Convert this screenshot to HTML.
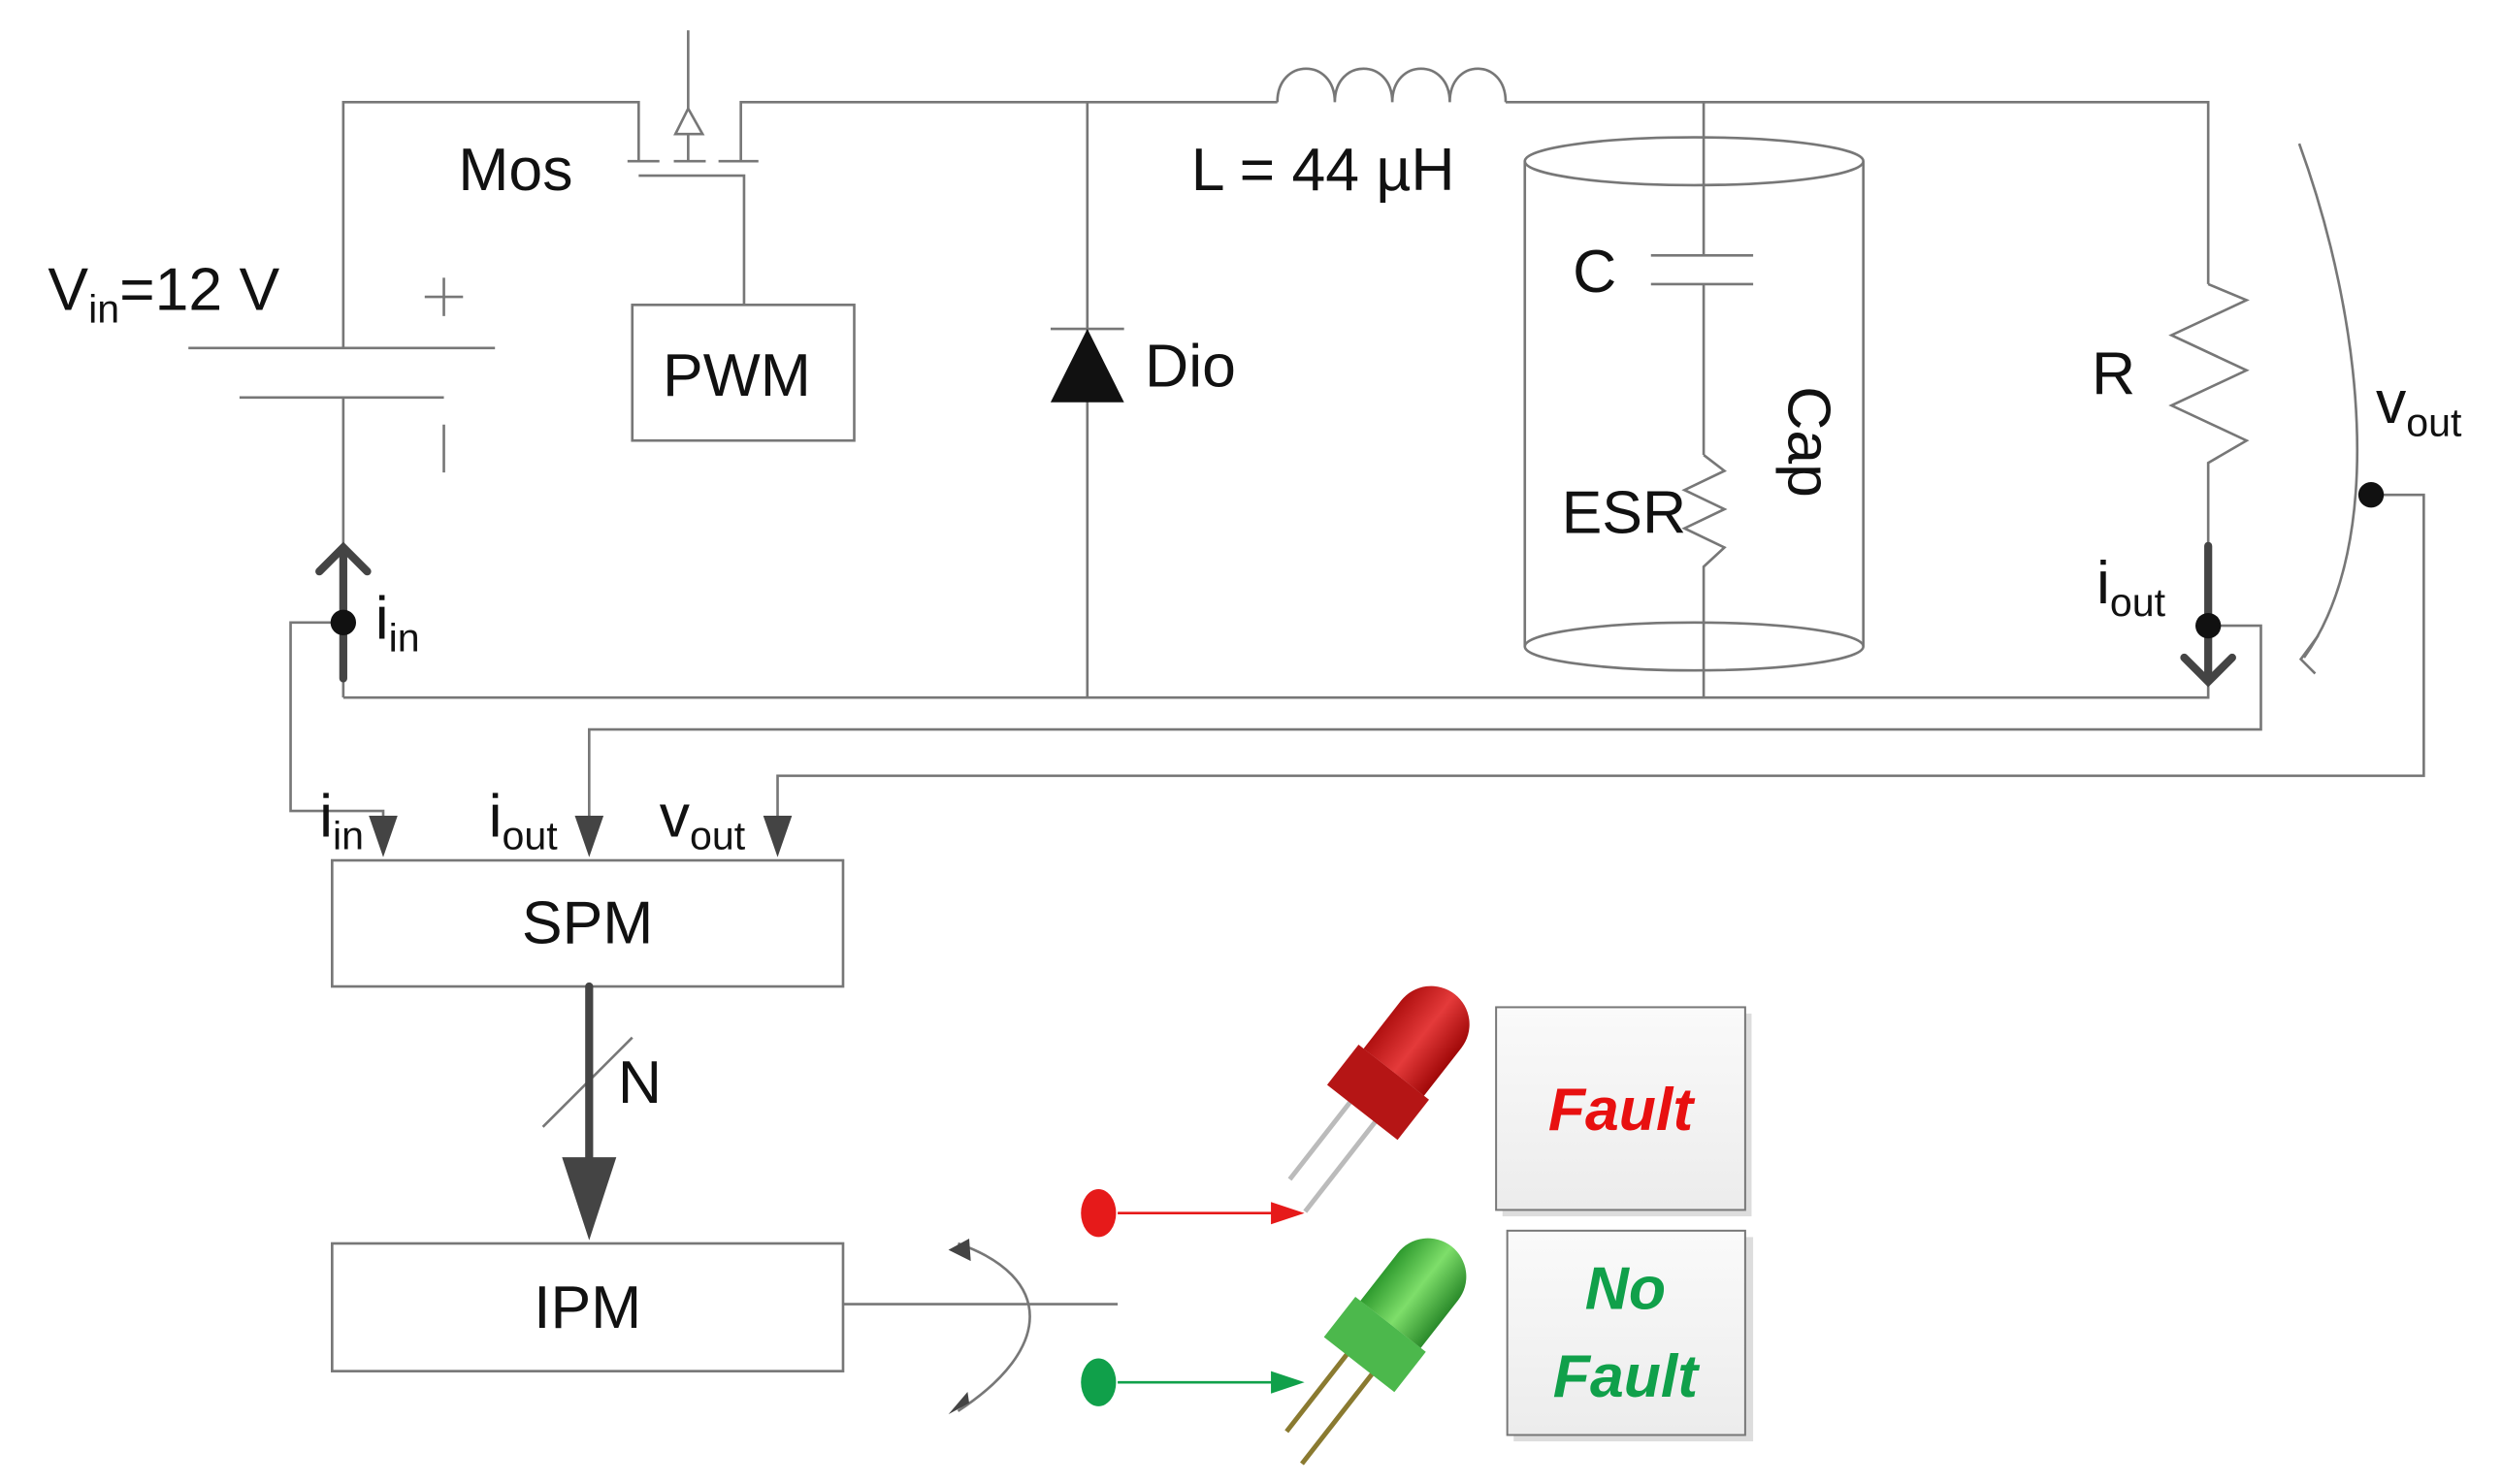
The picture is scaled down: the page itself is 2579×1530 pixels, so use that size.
<!DOCTYPE html>
<html><head><meta charset="utf-8"><style>
html,body{margin:0;padding:0;background:#fff;}
svg{display:block;}
text{font-family:"Liberation Sans",sans-serif;fill:#111;}
</style></head><body>
<svg width="2579" height="1530" viewBox="0 0 1567 929.7" preserveAspectRatio="none" xmlns="http://www.w3.org/2000/svg">
<defs>
<linearGradient id="bx" x1="0" y1="0" x2="0" y2="1"><stop offset="0" stop-color="#fafafa"/><stop offset="1" stop-color="#ececec"/></linearGradient>
<linearGradient id="rl" x1="0" y1="0" x2="1" y2="0"><stop offset="0" stop-color="#b01010"/><stop offset="0.5" stop-color="#e43a3a"/><stop offset="1" stop-color="#a00808"/></linearGradient>
<linearGradient id="gl" x1="0" y1="0" x2="1" y2="0"><stop offset="0" stop-color="#2e9a2e"/><stop offset="0.5" stop-color="#7ede6a"/><stop offset="1" stop-color="#2a8a2a"/></linearGradient>
</defs>
<g fill="none" stroke="#777" stroke-width="1.6">
<polyline points="215,218 215,64 400,64 400,101"/>
<polyline points="464,101 464,64 800,64"/>
<path d="M800,64 C800,36 836,36 836,64 C836,36 872,36 872,64 C872,36 908,36 908,64 C908,36 943,36 943,64"/>
<polyline points="943,64 1383,64 1383,178"/>
<line x1="431" y1="19" x2="431" y2="68"/>
<polygon points="431,68 423,84 440,84"/>
<line x1="431" y1="84" x2="431" y2="101"/>
<line x1="393" y1="101" x2="413" y2="101"/><line x1="422" y1="101" x2="442" y2="101"/><line x1="450" y1="101" x2="475" y2="101"/>
<polyline points="400,110 466,110 466,191"/>
<rect x="396" y="191" width="139" height="85"/>
<line x1="118" y1="218" x2="310" y2="218"/>
<line x1="150" y1="249" x2="278" y2="249"/>
<line x1="215" y1="249" x2="215" y2="437"/>
<line x1="266" y1="186" x2="290" y2="186"/><line x1="278" y1="174" x2="278" y2="198"/>
<line x1="278" y1="266" x2="278" y2="296"/>
<polyline points="215,437 1383,437 1383,428"/>
<line x1="681" y1="64" x2="681" y2="437"/>
<line x1="658" y1="206" x2="704" y2="206"/>
<ellipse cx="1061" cy="101" rx="106" ry="15"/>
<ellipse cx="1061" cy="405" rx="106" ry="15"/>
<line x1="955" y1="101" x2="955" y2="405"/><line x1="1167" y1="101" x2="1167" y2="405"/>
<line x1="1067" y1="64" x2="1067" y2="160"/><line x1="1067" y1="178" x2="1067" y2="285"/>
<line x1="1034" y1="160" x2="1098" y2="160"/><line x1="1034" y1="178" x2="1098" y2="178"/>
<polyline points="1067,285 1080,295 1055,307 1080,319 1055,331 1080,343 1067,355 1067,437"/>
<polyline points="1383,178 1407,188 1360,210 1407,232 1360,254 1407,276 1383,290 1383,340"/>
<polyline points="215,390 182,390 182,508 240,508 240,512"/>
<polyline points="1383,392 1416,392 1416,457 369,457 369,512"/>
<polyline points="1485,310 1518,310 1518,486 487,486 487,512"/>
<path d="M1440,90 C1480,200 1495,340 1443,412"/>
<polyline points="1452,398 1441,413 1450,422"/>
<rect x="208" y="539" width="320" height="79"/>
<rect x="208" y="779" width="320" height="80"/>
<line x1="528" y1="817" x2="700" y2="817"/>
<path d="M600,779 C660,800 660,845 600,884"/>
<line x1="340" y1="706" x2="396" y2="650"/>
</g>
<polygon points="681,206 658,252 704,252" fill="#111"/>
<g stroke="#444" stroke-width="5" fill="none" stroke-linecap="round">
<line x1="215" y1="425" x2="215" y2="345"/><polyline points="200,358 215,343 230,358"/>
<line x1="1383" y1="342" x2="1383" y2="426"/><polyline points="1368,412 1383,427 1398,412"/>
<line x1="369" y1="618" x2="369" y2="730"/>
</g>
<polygon points="352,725 386,725 369,777" fill="#444"/>
<g fill="#444">
<polygon points="231,511 249,511 240,537"/>
<polygon points="360,511 378,511 369,537"/>
<polygon points="478,511 496,511 487,537"/>
<polygon points="607,776 594,783 608,790" />
<polygon points="594,886 607,879 606,872"/>
</g>
<g fill="#111">
<circle cx="215" cy="390" r="8"/><circle cx="1383" cy="392" r="8"/><circle cx="1485" cy="310" r="8"/>
</g>
<ellipse cx="688" cy="760" rx="11" ry="15" fill="#e61a1a"/>
<line x1="700" y1="760" x2="800" y2="760" stroke="#e61a1a" stroke-width="1.6"/>
<polygon points="796,753 817,760 796,767" fill="#e61a1a"/>
<ellipse cx="688" cy="866" rx="11" ry="15" fill="#10a04a"/>
<line x1="700" y1="866" x2="800" y2="866" stroke="#10a04a" stroke-width="1.6"/>
<polygon points="796,859 817,866 796,873" fill="#10a04a"/>
<g transform="translate(868,678) rotate(38)">
<line x1="-10" y1="20" x2="-10" y2="85" stroke="#bbb" stroke-width="3"/>
<line x1="10" y1="20" x2="10" y2="95" stroke="#bbb" stroke-width="3"/>
<rect x="-28" y="-8" width="56" height="32" fill="#b51515"/>
<path d="M-24,-8 L-24,-46 A24,24 0 0 1 24,-46 L24,-8 Z" fill="url(#rl)"/>
</g>
<g transform="translate(866,836) rotate(38)">
<line x1="-10" y1="20" x2="-10" y2="85" stroke="#8a7a30" stroke-width="3"/>
<line x1="10" y1="20" x2="10" y2="95" stroke="#8a7a30" stroke-width="3"/>
<rect x="-28" y="-8" width="56" height="32" fill="#4cb84c"/>
<path d="M-24,-8 L-24,-46 A24,24 0 0 1 24,-46 L24,-8 Z" fill="url(#gl)"/>
</g>
<rect x="941" y="635" width="156" height="127" fill="#ddd"/>
<rect x="937" y="631" width="156" height="127" fill="url(#bx)" stroke="#777" stroke-width="1.2"/>
<rect x="948" y="775" width="150" height="128" fill="#ddd"/>
<rect x="944" y="771" width="149" height="128" fill="url(#bx)" stroke="#777" stroke-width="1.2"/>
<text x="1015" y="708" font-size="38" font-weight="bold" font-style="italic" text-anchor="middle" style="fill:#e81010">Fault</text>
<text x="1018" y="820" font-size="38" font-weight="bold" font-style="italic" text-anchor="middle" style="fill:#10a04a">No</text>
<text x="1018" y="875" font-size="38" font-weight="bold" font-style="italic" text-anchor="middle" style="fill:#10a04a">Fault</text>
<g font-size="38">
<text x="287" y="119">Mos</text>
<text x="746" y="119">L = 44 µH</text>
<text x="30" y="194">V<tspan font-size="25" dy="8">in</tspan><tspan dy="-8">=12 V</tspan></text>
<text x="415" y="248">PWM</text>
<text x="717" y="242">Dio</text>
<text x="985" y="183">C</text>
<text x="978" y="334">ESR</text>
<text x="1310" y="247">R</text>
<text x="1488" y="265">v<tspan font-size="25" dy="8">out</tspan></text>
<text x="235" y="400">i<tspan font-size="25" dy="8">in</tspan></text>
<text x="1313" y="378">i<tspan font-size="25" dy="8">out</tspan></text>
<text x="200" y="524">i<tspan font-size="25" dy="8">in</tspan></text>
<text x="306" y="524">i<tspan font-size="25" dy="8">out</tspan></text>
<text x="413" y="524">v<tspan font-size="25" dy="8">out</tspan></text>
<text x="368" y="591" text-anchor="middle">SPM</text>
<text x="368" y="832" text-anchor="middle">IPM</text>
<text x="387" y="691">N</text>
<text transform="translate(1120,242) rotate(90)">Cap</text>
</g>
</svg>
</body></html>
